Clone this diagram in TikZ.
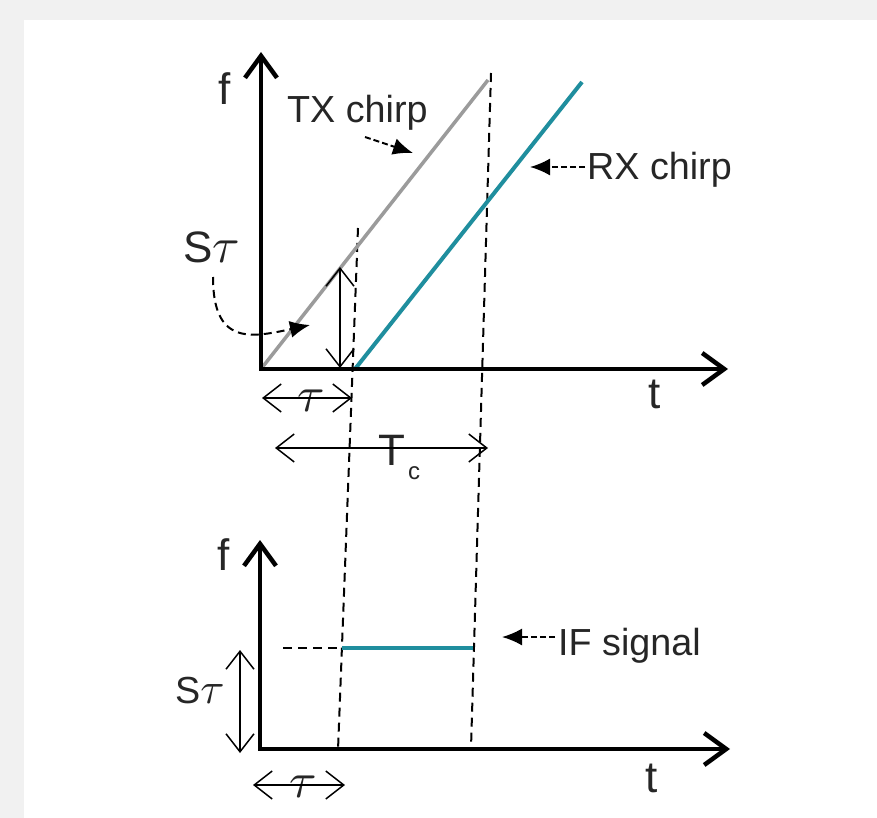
\documentclass[tikz,border=0pt]{standalone}
\usepackage{fontspec}
\setmainfont{Liberation Sans}
\usetikzlibrary{arrows.meta}
\definecolor{tealc}{HTML}{1F8E9E}
\definecolor{txgray}{HTML}{9B9B9B}
\definecolor{bggray}{HTML}{F1F1F1}
\newcommand{\bigtau}[1]{{\normalsize\scalebox{#1}{$\tau$}}}
\begin{document}
\begin{tikzpicture}[x=1pt,y=-1pt,
  axis/.style={line width=4.5pt, line join=miter,
    {Straight Barb[length=22pt,width=32pt]}-{Straight Barb[length=22pt,width=32pt]}},
  dimarrow/.style={line width=1.5pt,
    {Straight Barb[length=18pt,width=28pt]}-{Straight Barb[length=18pt,width=28pt]}},
  guide/.style={line width=2pt, dash pattern=on 9pt off 6pt},
  callout/.style={line width=2pt, dash pattern=on 6pt off 3pt, -{Latex[length=20pt,width=17pt]}},
  lbl/.style={font=\fontsize{37.7}{40}\selectfont, inner sep=0pt, text=black!85},
  big/.style={font=\fontsize{44}{48}\selectfont, inner sep=0pt, text=black!85},
  small/.style={font=\fontsize{24}{26}\selectfont, inner sep=0pt, text=black!85},
  chirp/.style={line width=4pt}
]
\useasboundingbox (0,0) rectangle (877,818);
\fill[bggray] (0,0) rectangle (877,818);
\fill[white] (24,20) rectangle (877,818);

% coordinates
\coordinate (O1) at (261,369);
\coordinate (Y1) at (261,52);
\coordinate (X1) at (728,369);
\coordinate (O2) at (260,749);
\coordinate (Y2) at (260,540);
\coordinate (X2) at (730,749);
\coordinate (TXe) at (488,80);
\coordinate (RXs) at (355,369);
\coordinate (RXe) at (582,82);
\coordinate (L1) at (358,228);
\coordinate (L2) at (338,750);
\coordinate (R1) at (491,73);
\coordinate (R2) at (471,748);
\coordinate (IFd) at (283,648);
\coordinate (IFs) at (342,648);
\coordinate (IFe) at (473,648);

% guides
\draw[guide] (L1) -- (L2);
\draw[guide] (R1) -- (R2);
\draw[guide] (IFd) -- (IFs);

% chirps
\draw[chirp, txgray, line width=3.5pt] (O1) -- (TXe);
\draw[chirp, tealc] (RXs) -- (RXe);
\draw[chirp, tealc] (IFs) -- (IFe);

% axes
\draw[axis] (Y1) -- (O1) -- (X1);
\draw[axis] (Y2) -- (O2) -- (X2);

% labels
\node[big, anchor=base] (f1) at (224.5,105) {f};
\node[big, anchor=base] (t1) at (655,408) {t};
\node[big, anchor=base] (f2) at (224,570) {f};
\node[big, anchor=base] (t2) at (652,792) {t};
\node[lbl, anchor=base west] (tx) at (287,123) {TX chirp};
\node[lbl, anchor=base west] (rx) at (587,180) {RX chirp};
\node[lbl, anchor=base west] (if) at (558,655) {IF signal};
\node[big, anchor=base west] (st1) at (183,262) {S\bigtau{5}};
\node[lbl, anchor=base west] (st2) at (175,703) {S\bigtau{4.4}};
\node[big, anchor=base west] (tcT) at (378,465) {T};
\node[small, anchor=base west] (tcc) at (408,479) {c};
\node[inner sep=0pt, text=black!85] (tau1) at (311,401) {\bigtau{5}};
\node[inner sep=0pt, text=black!85] (tau2) at (303,787) {\bigtau{5}};

% callout arrows
\coordinate (txa) at (365,137);
\coordinate (txb) at (413,153);
\coordinate (rxa) at (585,167);
\coordinate (rxb) at (530,167);
\coordinate (ifa) at (555,637);
\coordinate (ifb) at (502,637);
\coordinate (sta) at (213,277);
\coordinate (stb) at (310,325);
\draw[callout] (txa) -- (txb);
\draw[callout] (rxa) -- (rxb);
\draw[callout] (ifa) -- (ifb);
\draw[callout, dash pattern=on 8pt off 5pt] (sta) .. controls (213,345) and (250,338) .. (stb);

% dimension arrows
\coordinate (v1a) at (340,267);
\coordinate (v1b) at (340,368);
\coordinate (h1a) at (262,398);
\coordinate (h1b) at (352,398);
\coordinate (tca) at (275,448);
\coordinate (tcb) at (488,448);
\coordinate (v2a) at (240,650);
\coordinate (v2b) at (240,753);
\coordinate (h2a) at (253,785);
\coordinate (h2b) at (345,785);
\draw[dimarrow] (v1a) -- (v1b);
\draw[dimarrow] (h1a) -- (h1b);
\draw[dimarrow] (tca) -- (tcb);
\draw[dimarrow] (v2a) -- (v2b);
\draw[dimarrow] (h2a) -- (h2b);
\end{tikzpicture}
\end{document}
